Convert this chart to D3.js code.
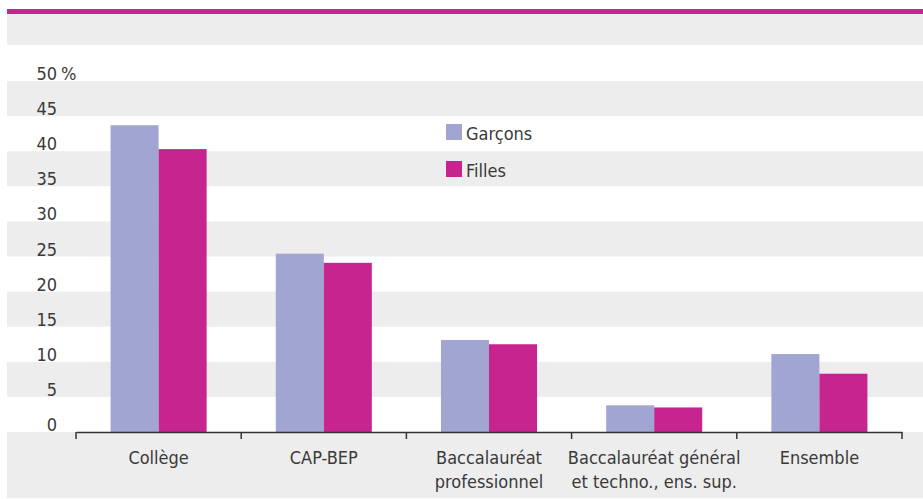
<!DOCTYPE html>
<html>
<head>
<meta charset="utf-8">
<script src="https://cdn.jsdelivr.net/npm/d3@7"></script>
<style>
  body { margin: 0; background: #fff; }
  text { font-family: "Liberation Sans Narrow", "DejaVu Sans Condensed", sans-serif; fill: #3a3a3a; }
</style>
</head>
<body>
<div id="chart"></div>
<script>
let categories = ["Collège", "CAP-BEP", "Baccalauréat|professionnel", "Baccalauréat général|et techno., ens. sup.", "Ensemble"];
let series = ["Garçons", "Filles"];
let garcons = [43.7, 25.4, 13.1, 3.8, 11.1];
let filles = [40.3, 24.1, 12.5, 3.5, 8.3];
let yTicks = [0, 5, 10, 15, 20, 25, 30, 35, 40, 45, 50];
let colors = ["#a0a5d1", "#c6248f"];

let W = 923, H = 499;
let plotL = 76, plotR = 902, plotT = 81, plotB = 432;

let svg = d3.select('#chart')
  .append('svg')
  .attr('width', W)
  .attr('height', H);

let y = d3.scaleLinear().domain([0, 50]).range([plotB, plotT]);
let x = d3.scaleBand().domain(categories).range([plotL, plotR]);
let xs = d3.scaleBand().domain(series).range([0, x.bandwidth()]).paddingInner(0).paddingOuter(0.72);

// title zone
svg.append('rect').attr('x', 7).attr('y', 9).attr('width', W - 7).attr('height', 5).attr('fill', '#c6248f');
svg.append('rect').attr('x', 7).attr('y', 14).attr('width', W - 7).attr('height', 31).attr('fill', '#ededed');

// alternating bands
let bands = [45, 35, 25, 15, 5];
svg.selectAll('rect.band')
  .data(bands)
  .enter()
  .append('rect')
  .attr('class', 'band')
  .attr('x', 7)
  .attr('width', W - 7)
  .attr('y', d => y(d + 5))
  .attr('height', d => y(d) - y(d + 5))
  .attr('fill', '#ededed');
svg.append('rect').attr('x', 7).attr('y', plotB).attr('width', W - 7).attr('height', H - 1 - plotB).attr('fill', '#ededed');

// bars
let rows = categories.map((c, i) => ({ cat: c, vals: [garcons[i], filles[i]] }));
let groups = svg.selectAll('g.grp')
  .data(rows)
  .enter()
  .append('g')
  .attr('transform', d => 'translate(' + x(d.cat) + ',0)');
groups.selectAll('rect')
  .data(d => d.vals.map((v, j) => ({ s: series[j], v: v, j: j })))
  .enter()
  .append('rect')
  .attr('x', d => xs(d.s))
  .attr('width', xs.bandwidth())
  .attr('y', d => y(d.v))
  .attr('height', d => plotB - y(d.v))
  .attr('fill', d => colors[d.j]);

// y labels
svg.selectAll('text.yl')
  .data(yTicks)
  .enter()
  .append('text')
  .attr('class', 'yl')
  .attr('x', 57)
  .attr('y', d => y(d) - 1)
  .attr('text-anchor', 'end')
  .style('font-size', '18px')
  .text(d => d);
svg.append('text').attr('x', 61).attr('y', y(50) - 1).style('font-size', '18px').text('%');

// x axis
let axis = svg.append('g')
  .attr('transform', 'translate(0,' + plotB + ')')
  .call(d3.axisBottom(x).tickValues([]).tickSizeOuter(0));
axis.select('.domain').attr('stroke', '#333').attr('stroke-width', 1.5);
let edges = categories.map(c => x(c)).concat([plotR]);
axis.selectAll('line.tk')
  .data(edges)
  .enter()
  .append('line')
  .attr('x1', d => d).attr('x2', d => d)
  .attr('y1', 0).attr('y2', 7)
  .attr('stroke', '#333').attr('stroke-width', 1.5);

svg.selectAll('text.xl')
  .data(categories)
  .enter()
  .append('text')
  .attr('class', 'xl')
  .attr('text-anchor', 'middle')
  .attr('x', d => x(d) + x.bandwidth() / 2)
  .attr('y', 464)
  .style('font-size', '18px')
  .selectAll('tspan')
  .data(d => d.split('|'))
  .enter()
  .append('tspan')
  .attr('x', function() { return d3.select(this.parentNode).attr('x'); })
  .attr('dy', (d, i) => i === 0 ? 0 : 24)
  .text(d => d);

// legend
let lg = svg.selectAll('g.lg')
  .data(series)
  .enter()
  .append('g')
  .attr('transform', (d, i) => 'translate(446,' + (124 + i * 37) + ')');
lg.append('rect').attr('width', 16).attr('height', 16).attr('fill', (d, i) => colors[i]);
lg.append('text').attr('x', 20).attr('y', 16).style('font-size', '18px').text(d => d);
</script>
</body>
</html>
